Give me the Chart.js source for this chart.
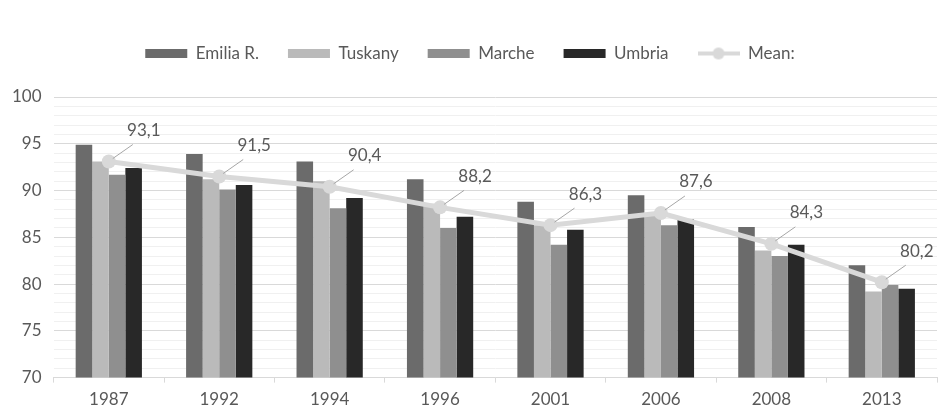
<!DOCTYPE html>
<html>
<head>
<meta charset="utf-8">
<script src="https://cdn.jsdelivr.net/npm/chart.js@4"></script>
<style>
  html, body { margin: 0; padding: 0; background: #fff; }
  #wrap { width: 944px; height: 417px; }
</style>
</head>
<body>
<div id="wrap"><canvas id="chart"></canvas></div>
<script>
// Grouped bars per region plus the mean line with value labels.

const years = ['1987', '1992', '1994', '1996', '2001', '2006', '2008', '2013'];
const emilia = [94.9, 93.9, 93.1, 91.2, 88.8, 89.5, 86.1, 82.0];
const tuskany = [93.1, 91.2, 91.0, 88.6, 86.3, 87.3, 83.6, 79.2];
const marche = [91.7, 90.1, 88.1, 86.0, 84.2, 86.3, 83.0, 79.9];
const umbria = [92.4, 90.6, 89.2, 87.2, 85.8, 86.9, 84.2, 79.5];
const mean = [93.1, 91.5, 90.4, 88.2, 86.3, 87.6, 84.3, 80.2];

const FONT = 'Lato, "Open Sans", sans-serif';
const TEXT = '#595959';
const MEAN_COLOR = '#d9d9d9';

// legend swatch for the mean: a thick line with a dot in the middle
const meanSwatch = document.createElement('canvas');
meanSwatch.width = 42;
meanSwatch.height = 14;
(() => {
  const c = meanSwatch.getContext('2d');
  c.fillStyle = MEAN_COLOR;
  c.fillRect(0, 5, 42, 4);
  c.beginPath();
  c.arc(21, 7, 6, 0, Math.PI * 2);
  c.fill();
})();

// value labels with a short leader line, up and right of each mean point
const meanLabels = {
  id: 'meanLabels',
  afterDatasetsDraw(chart) {
    const meta = chart.getDatasetMeta(4);
    const ctx = chart.ctx;
    ctx.save();
    ctx.font = '17px ' + FONT;
    ctx.fillStyle = TEXT;
    ctx.textAlign = 'center';
    ctx.textBaseline = 'middle';
    ctx.strokeStyle = '#a6a6a6';
    ctx.lineWidth = 1;
    meta.data.forEach((pt, i) => {
      ctx.beginPath();
      ctx.moveTo(pt.x + 4, pt.y - 3);
      ctx.lineTo(pt.x + 24, pt.y - 17);
      ctx.stroke();
      ctx.fillText(mean[i].toFixed(1).replace('.', ','), pt.x + 35, pt.y - 31);
    });
    ctx.restore();
  }
};

// extra room between the legend and the plot
const legendGap = {
  id: 'legendGap',
  beforeInit(chart) {
    const fit = chart.legend.fit;
    chart.legend.fit = function () {
      fit.bind(chart.legend)();
      this.height += 25;
    };
  }
};

new Chart(document.getElementById('chart'), {
  type: 'bar',
  data: {
    labels: years,
    datasets: [
      { label: 'Emilia R.', data: emilia, backgroundColor: '#6b6b6b', order: 1 },
      { label: 'Tuskany', data: tuskany, backgroundColor: '#bababa', order: 1 },
      { label: 'Marche', data: marche, backgroundColor: '#8f8f8f', order: 1 },
      { label: 'Umbria', data: umbria, backgroundColor: '#282828', order: 1 },
      {
        type: 'line',
        label: 'Mean:',
        data: mean,
        borderColor: MEAN_COLOR,
        backgroundColor: MEAN_COLOR,
        borderWidth: 5,
        pointRadius: 7,
        pointBorderWidth: 0,
        pointBackgroundColor: MEAN_COLOR,
        tension: 0,
        order: 0
      }
    ]
  },
  options: {
    responsive: true,
    maintainAspectRatio: false,
    animation: false,
    devicePixelRatio: 1,
    layout: { padding: { top: 16, right: 4, left: 0, bottom: 0 } },
    datasets: {
      bar: { categoryPercentage: 0.6, barPercentage: 1.0, borderWidth: 0 }
    },
    plugins: {
      legend: {
        display: true,
        position: 'top',
        labels: {
          usePointStyle: true,
          pointStyleWidth: 42,
          boxHeight: 9,
          padding: 29,
          color: TEXT,
          font: { family: FONT, size: 17 },
          generateLabels: (chart) => {
            const items = Chart.defaults.plugins.legend.labels.generateLabels(chart);
            items.forEach((it) => {
              it.pointStyle = it.datasetIndex === 4 ? meanSwatch : 'rect';
              it.lineWidth = 0;
            });
            return items.sort((a, b) => a.datasetIndex - b.datasetIndex);
          }
        }
      },
      tooltip: { enabled: false }
    },
    scales: {
      x: {
        offset: true,
        grid: {
          offset: true,
          drawOnChartArea: false,
          drawTicks: true,
          tickLength: 5,
          color: '#d9d9d9'
        },
        border: { display: true, color: '#d9d9d9' },
        ticks: { color: TEXT, font: { family: FONT, size: 17 }, padding: 7 }
      },
      y: {
        min: 70,
        max: 100,
        ticks: {
          stepSize: 1,
          autoSkip: false,
          color: TEXT,
          font: { family: FONT, size: 17 },
          padding: 12,
          callback: (v) => (v % 5 === 0 ? v : '')
        },
        grid: {
          drawTicks: false,
          color: (c) => (c.tick && c.tick.value % 5 === 0 ? '#d9d9d9' : '#f0f0f0')
        },
        border: { display: false }
      }
    }
  },
  plugins: [meanLabels, legendGap]
});
</script>
</body>
</html>
